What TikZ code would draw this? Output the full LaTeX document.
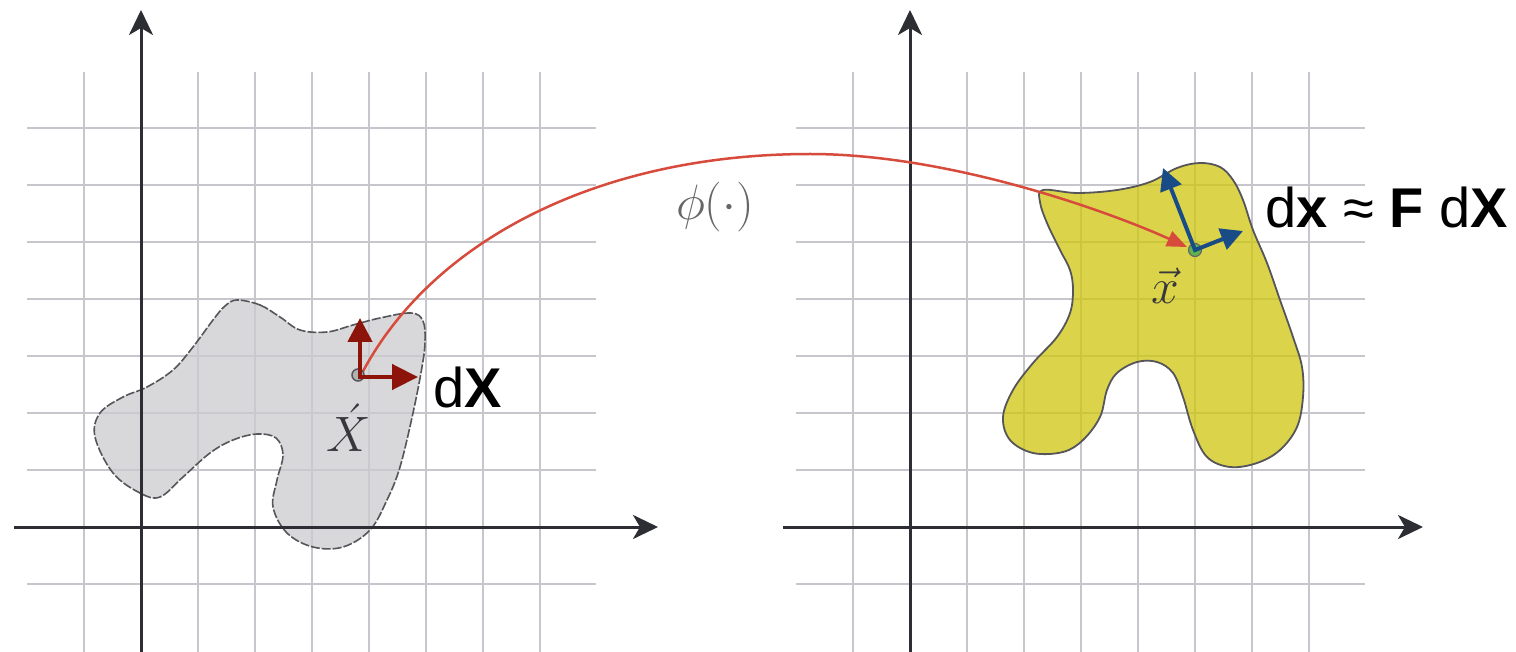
\documentclass[tikz,border=0pt]{standalone}
\usepackage{fontspec}
\newfontfamily\lsans{Liberation Sans}
\usetikzlibrary{arrows.meta}
\definecolor{gridc}{RGB}{198,198,204}
\definecolor{axisc}{RGB}{45,45,52}
\definecolor{blobgray}{RGB}{204,204,208}
\definecolor{blobyel}{RGB}{207,198,14}
\definecolor{edgegray}{RGB}{85,85,90}
\definecolor{darkred}{RGB}{140,20,10}
\definecolor{curvered}{RGB}{215,75,60}
\definecolor{blueax}{RGB}{25,75,135}
\definecolor{greendot}{RGB}{95,180,75}
\definecolor{labgray}{RGB}{55,55,60}
\tikzset{
  gridline/.style={draw=gridc, line width=2.2pt},
  axisline/.style={draw=axisc, line width=3pt, -{Stealth[length=25pt,width=24pt,inset=7pt]}},
  blobA/.style={fill=blobgray, fill opacity=0.75, draw=edgegray, line width=1.6pt, dash pattern=on 9pt off 2pt},
  blobB/.style={fill=blobyel, fill opacity=0.75, draw=edgegray, line width=1.8pt},
  redarr/.style={draw=darkred, line width=4.5pt, {Triangle[length=24pt,width=24pt]}-{Triangle[length=26pt,width=25pt]}},
  bluearr/.style={draw=blueax, line width=4pt, {Triangle[length=22pt,width=22pt]}-{Triangle[length=22pt,width=22pt]}},
  mapcurve/.style={draw=curvered, line width=2.5pt, -{Triangle[length=20pt,width=16pt]}},
  mathlab/.style={text=labgray, inner sep=0pt, font=\Huge, scale=2},
  sanslab/.style={text=black, inner sep=0pt, anchor=base west, font=\lsans\fontsize{56}{66}\selectfont}
}
\begin{document}
\begin{tikzpicture}[x=1pt,y=-1pt]
\useasboundingbox[fill=white] (0,0) rectangle (1516,652);
% grids
\foreach \i in {0,...,8} {
  \draw[gridline] ({84+57*\i},72) -- ({84+57*\i},652);
  \draw[gridline] ({853+57*\i},72) -- ({853+57*\i},652);
  \draw[gridline] (27,{128+57*\i}) -- (596,{128+57*\i});
  \draw[gridline] (796,{128+57*\i}) -- (1365,{128+57*\i});
}
% left blob
\path[blobA] plot[smooth cycle, tension=0.6] coordinates {
 (237,300) (260,305) (280,317) (300,330) (327,332) (353,325) (380,318) (411,313)
 (423,321) (425,342) (422,367) (413,413) (400,467) (387,500) (370,530) (343,547)
 (313,547) (287,533) (273,507) (277,480) (283,455) (276,438) (257,434) (233,440)
 (210,453) (183,477) (160,497) (140,493) (113,473) (95,437) (100,413) (123,397)
 (147,387) (173,370) (193,347) (213,320) (225,306)};
% right blob
\path[blobB] plot[smooth cycle, tension=0.6] coordinates {
 (1043,190) (1077,193) (1117,190) (1150,182) (1177,168) (1200,163) (1220,167)
 (1233,180) (1243,200) (1253,230) (1267,263) (1280,300) (1293,337) (1302,367)
 (1303,397) (1297,427) (1280,450) (1257,463) (1230,467) (1207,457) (1193,430)
 (1183,397) (1173,373) (1157,362) (1137,362) (1117,373) (1107,390) (1100,417)
 (1083,440) (1063,452) (1033,453) (1010,440) (1003,417) (1013,390) (1033,363)
 (1057,337) (1070,313) (1073,290) (1070,270) (1060,250) (1047,223) (1040,202)};
% axes
\coordinate (LO) at (14,527); \coordinate (LX) at (658,527);
\coordinate (LB) at (141,652); \coordinate (LY) at (141,10);
\coordinate (RO) at (783,527); \coordinate (RX) at (1423,527);
\coordinate (RB) at (910,652); \coordinate (RY) at (910,10);
\draw[axisline] (LO) -- (LX);
\draw[axisline] (LB) -- (LY);
\draw[axisline] (RO) -- (RX);
\draw[axisline] (RB) -- (RY);
% points
\coordinate (P) at (360,377);
\coordinate (Pup) at (360,318);
\coordinate (Pright) at (418,377);
\coordinate (Q) at (1195,250);
\coordinate (T) at (1187,247);
\coordinate (Qup) at (1163,168);
\coordinate (Qright) at (1243,231);
% mapping curve
\draw[mapcurve] (P) .. controls (430,240) and (600,154) .. (810,154)
  .. controls (950,154) and (1110,212) .. (T);
% left point and arrows
\node[circle, draw=edgegray, fill=gray!60, line width=1.5pt, minimum size=12pt, inner sep=0pt] (pdot) at (358,375) {};
\draw[redarr] (Pup) -- (P) -- (Pright);
% right point and arrows
\node[circle, draw=black!60, fill=greendot, line width=1.2pt, minimum size=13pt, inner sep=0pt] (qdot) at (Q) {};
\draw[bluearr] (Qup) -- (Q) -- (Qright);
% labels
\node[mathlab] (Xlab) at (349,428) {$\acute{X}$};
\node[mathlab] (xlab) at (1165,286) {$\vec{x}$};
\node[mathlab, text=black!60] (philab) at (715,207) {$\phi(\cdot)$};
\node[sanslab] (dXlab) at (433,407) {d\textbf{X}};
\node[sanslab] (dxlab) at (1265,228) {d\textbf{x} ≈ \textbf{F} d\textbf{X}};
\end{tikzpicture}
\end{document}
